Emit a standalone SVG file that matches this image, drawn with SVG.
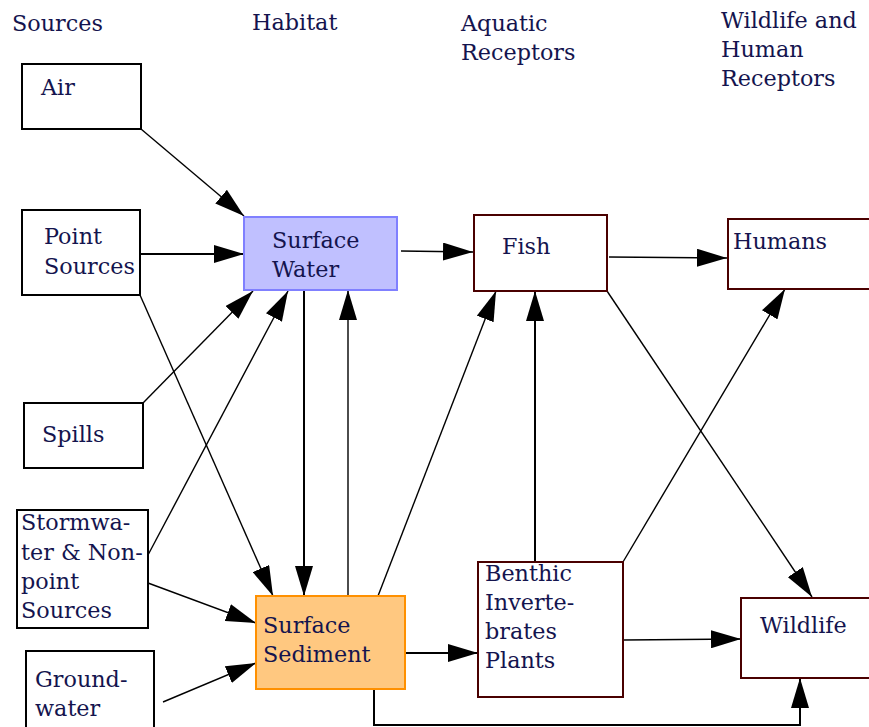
<svg xmlns="http://www.w3.org/2000/svg" width="869" height="727" viewBox="0 0 869 727">
<style>
text{font-family:"DejaVu Serif","Liberation Serif",serif;font-size:22.3px;fill:#14144e}
.box{fill:#fff;stroke:#000;stroke-width:2}
.rec{fill:#fff;stroke:#4a0000;stroke-width:2}
.c{stroke:#000;stroke-width:1.4;fill:none}
.t{stroke-width:2}
</style>
<defs>
<marker id="ah" markerUnits="userSpaceOnUse" markerWidth="30" markerHeight="18" refX="30" refY="9" orient="auto">
<path d="M0,0 L30,9 L0,18 z" fill="#000"/>
</marker>
</defs>
<rect width="869" height="727" fill="#fff"/>
<g id="headers">
<text x="12" y="31">Sources</text>
<text x="252" y="30">Habitat</text>
<text x="461" y="31">Aquatic</text>
<text x="461" y="60">Receptors</text>
<text x="721" y="28">Wildlife and</text>
<text x="721" y="57">Human</text>
<text x="721" y="86">Receptors</text>
</g>
<g id="connectors">
<line class="c" x1="141" y1="129" x2="244" y2="216" marker-end="url(#ah)"/>
<line class="c t" x1="140" y1="254" x2="244" y2="254" marker-end="url(#ah)"/>
<line class="c" x1="140" y1="295" x2="273" y2="596" marker-end="url(#ah)"/>
<line class="c" x1="143" y1="403" x2="253" y2="291" marker-end="url(#ah)" stroke-width="1"/>
<line class="c" x1="148" y1="555" x2="288" y2="291" marker-end="url(#ah)"/>
<line class="c" x1="148" y1="583" x2="256" y2="623" marker-end="url(#ah)"/>
<line class="c" x1="163" y1="702" x2="256" y2="663" marker-end="url(#ah)"/>
<line class="c t" x1="304" y1="290" x2="304" y2="596" marker-end="url(#ah)"/>
<line class="c" x1="348" y1="596" x2="348" y2="290" marker-end="url(#ah)" stroke-width="1.1"/>
<line class="c" x1="378" y1="596" x2="496" y2="291" marker-end="url(#ah)"/>
<line class="c t" x1="405" y1="653" x2="478" y2="653" marker-end="url(#ah)"/>
<polyline class="c t" points="374,689 374,725 800,725 800,678" marker-end="url(#ah)"/>
<line class="c" x1="401" y1="251" x2="473" y2="252" marker-end="url(#ah)"/>
<line class="c" x1="609" y1="257" x2="727" y2="258" marker-end="url(#ah)"/>
<line class="c" x1="607" y1="291" x2="812" y2="597" marker-end="url(#ah)"/>
<line class="c t" x1="535" y1="562" x2="535" y2="291" marker-end="url(#ah)"/>
<line class="c" x1="623" y1="562" x2="785" y2="289" marker-end="url(#ah)"/>
<line class="c" x1="624" y1="640" x2="741" y2="639" marker-end="url(#ah)"/>
</g>
<g id="air"><rect class="box" x="22" y="64" width="119" height="65"/><text x="41" y="95">Air</text></g>
<g id="point-sources"><rect class="box" x="22" y="210" width="118" height="85"/><text x="44" y="244">Point</text><text x="44" y="274">Sources</text></g>
<g id="spills"><rect class="box" x="24" y="403" width="119" height="65"/><text x="42" y="442">Spills</text></g>
<g id="stormwater"><rect class="box" x="17" y="510" width="131" height="118"/><text x="21" y="530">Stormwa-</text><text x="21" y="560">ter &amp; Non-</text><text x="21" y="589">point</text><text x="21" y="618">Sources</text></g>
<g id="groundwater"><rect class="box" x="26" y="651" width="128" height="90"/><text x="35" y="687">Ground-</text><text x="35" y="716">water</text></g>
<g id="surface-water"><rect x="244" y="217" width="153" height="73" fill="#c0c0ff" stroke="#8080ff" stroke-width="2"/><text x="272" y="248">Surface</text><text x="272" y="277">Water</text></g>
<g id="surface-sediment"><rect x="256" y="596" width="149" height="93" fill="#ffc880" stroke="#ff9000" stroke-width="2"/><text x="263" y="633">Surface</text><text x="263" y="662">Sediment</text></g>
<g id="fish"><rect class="rec" x="474" y="215" width="133" height="76"/><text x="502" y="254">Fish</text></g>
<g id="benthic"><rect class="rec" x="478" y="562" width="145" height="135"/><text x="485" y="581">Benthic</text><text x="485" y="610">Inverte-</text><text x="485" y="639">brates</text><text x="485" y="668">Plants</text></g>
<g id="humans"><rect class="rec" x="728" y="219" width="142" height="70"/><text x="733" y="249">Humans</text></g>
<g id="wildlife"><rect class="rec" x="741" y="598" width="130" height="80"/><text x="760" y="633">Wildlife</text></g>
</svg>
